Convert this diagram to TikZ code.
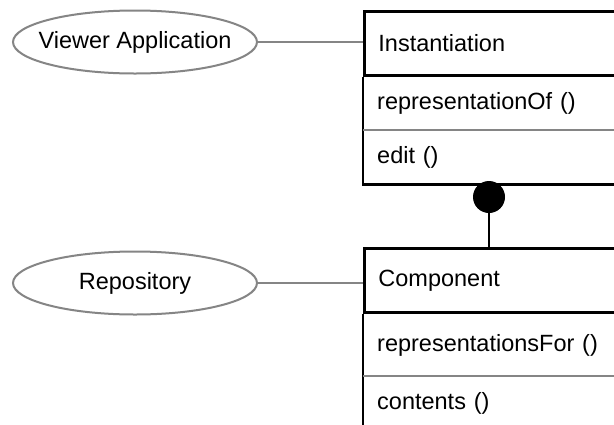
\documentclass[tikz,border=0pt]{standalone}
\usepackage{fontspec}
\setmainfont{Liberation Sans}
\usetikzlibrary{shapes.geometric}
\definecolor{lgray}{HTML}{858585}
\begin{document}
\begin{tikzpicture}[x=1pt,y=-1pt,
  every node/.style={font=\fontsize{23.5}{28}\selectfont},
  usecase/.style={ellipse,draw=lgray,line width=2pt,minimum width=244pt,minimum height=63pt,inner sep=0pt,label={center:#1}},
  compart/.style={anchor=north west,minimum height=#1,text width=252pt,inner xsep=14pt,inner ysep=0pt,align=left},
  frame/.style={line width=2.8pt,black},
  sep/.style={line width=2.2pt,lgray},
  link/.style={line width=2.2pt,lgray},
  stem/.style={line width=2.8pt,black}]
\clip (0,0) rectangle (614,424);
\fill[white] (0,0) rectangle (614,424);
% upper class
\node[compart=64pt,draw,frame] (inst) at (363,10) {Instantiation};
\node[compart=53pt] (repof) at (inst.south west) {representationOf ()};
\node[compart=54pt] (edit) at (repof.south west) {edit ()};
\draw[frame] (repof.north west) -- (edit.south west) -- (edit.south east) -- (repof.north east);
\draw[sep] (repof.south west) -- (repof.south east);
% lower class
\node[compart=64pt,draw,frame] (comp) at (363,247) {Component};
\node[compart=62pt] (repfor) at (comp.south west) {representationsFor ()};
\node[compart=54pt] (cont) at (repfor.south west) {contents ()};
\draw[frame] (repfor.north west) -- (cont.south west) -- (cont.south east) -- (repfor.north east);
\draw[sep] (repfor.south west) -- (repfor.south east);
% use cases
\node[usecase={Viewer Application}] (viewer) at (135,42) {};
\node[usecase={Repository}] (repo) at (135,283) {};
\draw[link] (viewer.east) -- (viewer.east -| inst.west);
\draw[link] (repo.east) -- (repo.east -| comp.west);
% composition dot
\node[circle,fill=black,minimum size=32pt,inner sep=0pt] (dot) at (489,197) {};
\draw[stem] (dot.south) -- (dot.south |- comp.north);
\end{tikzpicture}
\end{document}
